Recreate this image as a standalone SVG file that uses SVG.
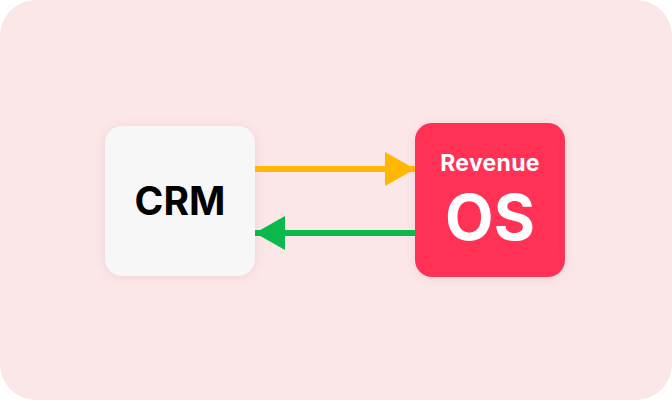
<svg xmlns="http://www.w3.org/2000/svg" width="672" height="400" viewBox="0 0 672 400">
  <defs>
    <filter id="shadow" x="-20%" y="-20%" width="140%" height="140%">
      <feDropShadow dx="0" dy="1" stdDeviation="4" flood-color="#b07080" flood-opacity="0.18"/>
    </filter>
    <marker id="headOrange" viewBox="0 0 30 34" refX="30" refY="17" markerWidth="30" markerHeight="34" markerUnits="userSpaceOnUse" orient="auto">
      <path d="M0,0 L30,17 L0,34 Z" fill="#FFB703"/>
    </marker>
    <marker id="headGreen" viewBox="0 0 30 34" refX="30" refY="17" markerWidth="30" markerHeight="34" markerUnits="userSpaceOnUse" orient="auto">
      <path d="M0,0 L30,17 L0,34 Z" fill="#0BB84B"/>
    </marker>
  </defs>
  <style>
    .label { font-family: Inter, "Liberation Sans", sans-serif; font-weight: 700; text-anchor: middle; }
    .conn { fill: none; stroke-width: 6; }
  </style>
  <rect x="0" y="0" width="672" height="400" rx="36" ry="36" fill="#FBE6E8"/>

  <g id="crm">
    <rect x="105" y="126" width="150" height="150" rx="17" ry="17" fill="#F7F7F7" filter="url(#shadow)"/>
    <text class="label" x="180" y="215" font-size="39" fill="#000000">CRM</text>
  </g>

  <g id="revenue-os">
    <rect x="415" y="123" width="150" height="154" rx="17" ry="17" fill="#FF3355" filter="url(#shadow)"/>
    <text class="label" x="490" y="171" font-size="23" fill="#FFFFFF" letter-spacing="0.3">Revenue</text>
    <text class="label" x="490" y="240" font-size="63" fill="#FFFFFF">OS</text>
  </g>

  <g id="connectors">
    <line class="conn" x1="255" y1="169" x2="415" y2="169" stroke="#FFB703" marker-end="url(#headOrange)"/>
    <line class="conn" x1="415" y1="233" x2="255" y2="233" stroke="#0BB84B" marker-end="url(#headGreen)"/>
  </g>
</svg>
